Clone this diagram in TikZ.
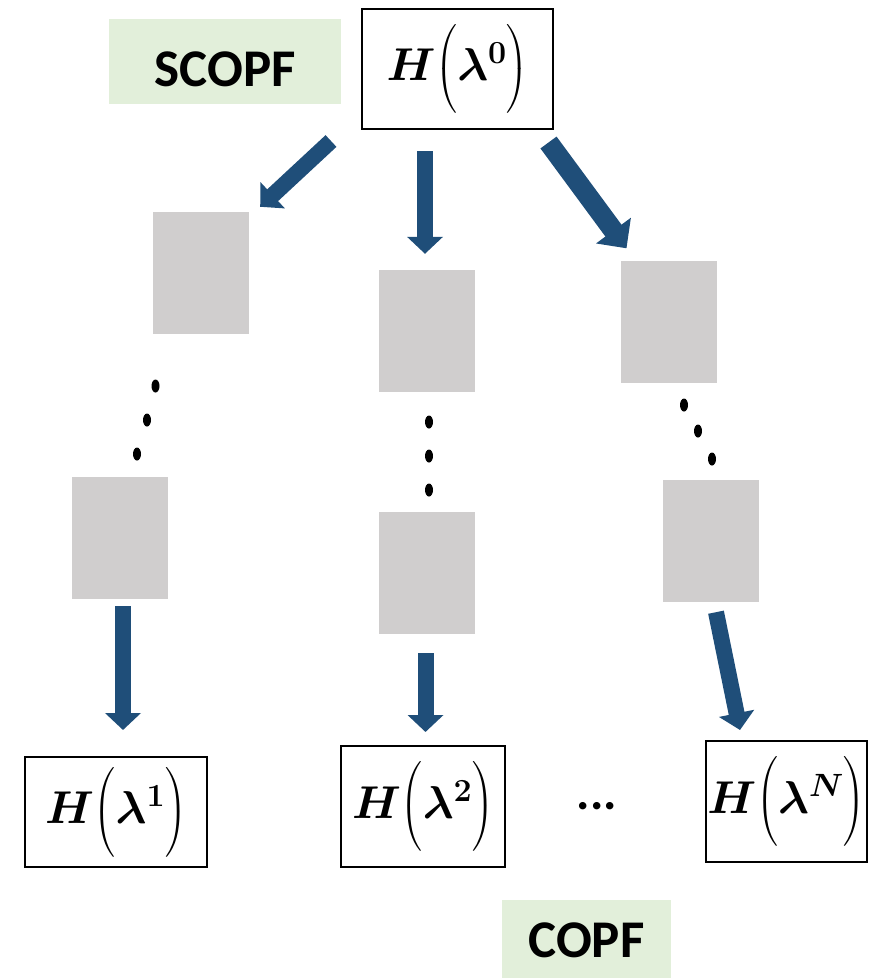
\RequirePackage{fix-cm}
\documentclass[tikz,border=0pt]{standalone}
\usepackage{amsmath, bm}
\usepackage{fontspec}
\setsansfont{Carlito}
\usetikzlibrary{arrows.meta, positioning, calc}
\definecolor{arrblue}{RGB}{31, 78, 121}
\definecolor{taggreen}{RGB}{226, 239, 218}
\definecolor{blockgray}{RGB}{208, 206, 206}
\newcommand{\Hl}[1]{$\bm{H\Bigl(\lambda^{#1}\Bigr)}$}

\begin{document}
\begin{tikzpicture}[
    x=1pt, y=-1pt,
    hbox/.style={draw, line width=2pt, minimum height=120pt, inner sep=0pt,
                 font=\fontsize{46}{56}\selectfont},
    gbox/.style={fill=blockgray, minimum width=96pt, minimum height=122pt, inner sep=0pt},
    tag/.style={fill=taggreen, inner sep=0pt, minimum height=85pt,
                font=\sffamily\bfseries\fontsize{53}{63}\selectfont},
    arr/.style={arrblue, line width=16pt, -{Triangle[length=17pt, width=35pt]}}
]
    \useasboundingbox (0,0) rectangle (869,978);

    % root and labels
    \node[hbox, minimum width=191pt] (h0) at (457.5,69) {\Hl{0}};
    \node[tag, minimum width=232pt, text height=50pt] (scopf) at (225,61.5) {SCOPF};
    \node[tag, minimum width=169pt, minimum height=80pt] (copf) at (586.5,940) {COPF};

    % grey blocks, upper and lower row
    \node[gbox] (g1) at (201,273) {};
    \node[gbox] (g2) at (427,331) {};
    \node[gbox] (g3) at (669,322) {};
    \node[gbox] (g4) at (120,538) {};
    \node[gbox] (g5) at (427,573) {};
    \node[gbox] (g6) at (711,541) {};

    % leaves
    \node[hbox, minimum width=182pt, minimum height=110pt] (h1) at (116,812) {\Hl{1}};
    \node[hbox, minimum width=164pt, minimum height=121pt] (h2) at (423,806.5) {\Hl{2}};
    \node[hbox, minimum width=161pt, minimum height=121pt] (hN) at (786.5,801.5) {\Hl{N}};
    \node[font=\sffamily\bfseries\fontsize{50}{60}\selectfont] (etc) at (597,806) {...};

    % vertical dots between the rows
    \foreach \p in {(155.5,386), (147,420), (137,454),
                    (429,422), (429,456), (429,490),
                    (684,405), (698,431), (712,459)}
        \fill \p ellipse (4 and 6.5);

    \draw[arr] ([xshift=-30pt, yshift=-11pt]h0.south west) -- ([xshift=11pt, yshift=5pt]g1.north east);
    \draw[arr] ([xshift=-32.5pt, yshift=-21pt]h0.south) -- ([xshift=-2pt, yshift=16pt]g2.north);
    \draw[arr, line width=20pt, -{Triangle[length=22pt, width=42pt]}]
        ([xshift=-5.5pt, yshift=-12.5pt]h0.south east) -- ([xshift=-42.5pt, yshift=12.5pt]g3.north);
    \draw[arr] ([xshift=3pt, yshift=-7pt]g4.south) -- ([xshift=7pt, yshift=26pt]h1.north);
    \draw[arr] ([xshift=-1.5pt, yshift=-19pt]g5.south) -- ([xshift=2.5pt, yshift=13pt]h2.north);
    \draw[arr] ([xshift=5pt, yshift=-10pt]g6.south) -- ([xshift=-46.5pt, yshift=10pt]hN.north);
\end{tikzpicture}
\end{document}
